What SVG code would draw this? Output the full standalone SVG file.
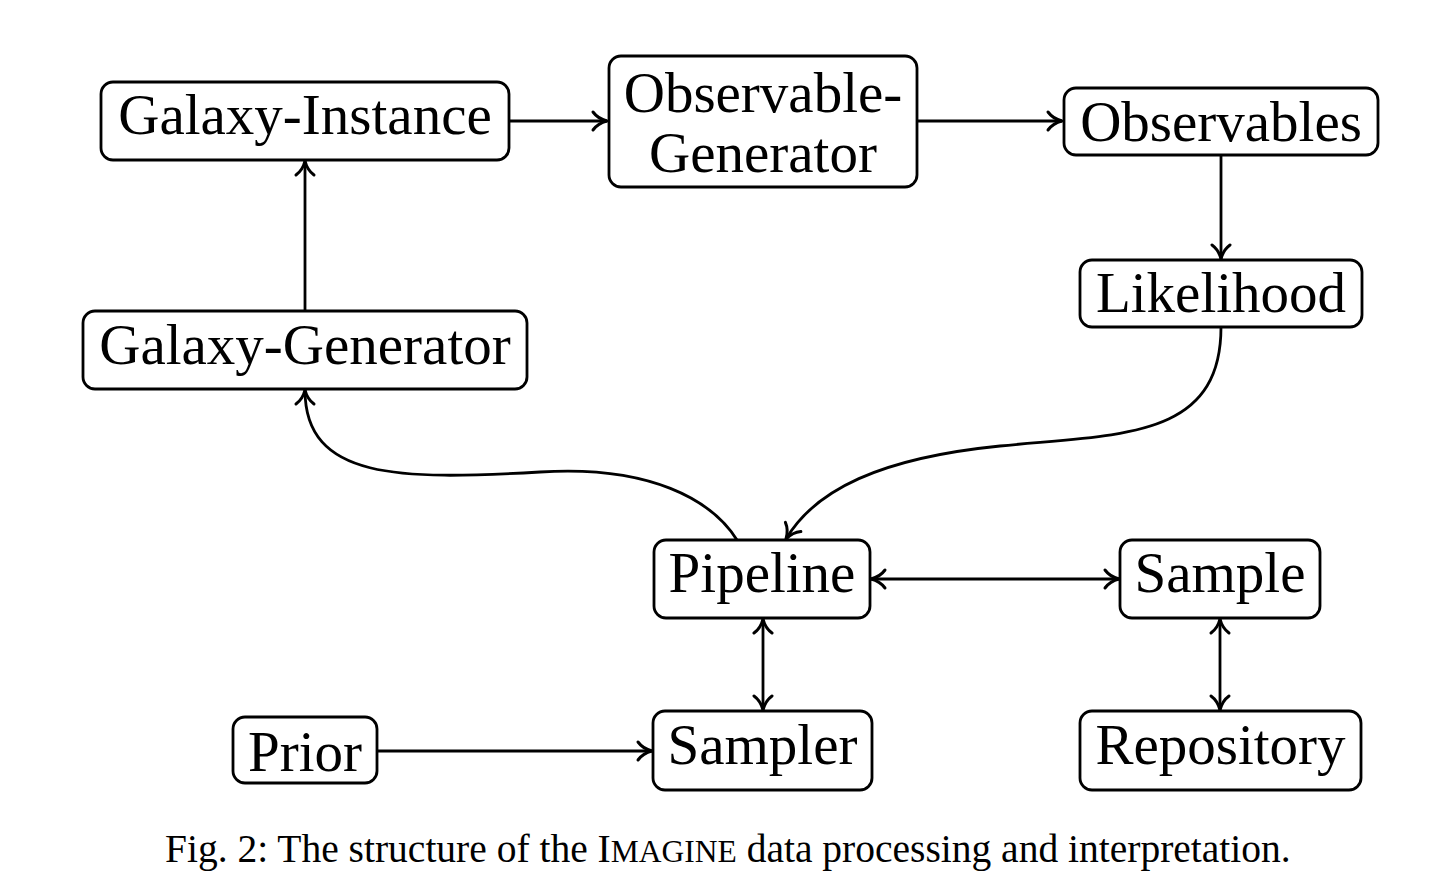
<svg xmlns="http://www.w3.org/2000/svg" width="1434" height="892" viewBox="0 0 1434 892">
<defs>
<style>
.box{fill:#fff;stroke:#000;stroke-width:2.8}
.lbl{font-family:"Liberation Serif","Times New Roman",serif;font-size:57px;fill:#000;text-anchor:middle}
.cap{font-family:"Liberation Serif","Times New Roman",serif;font-size:39.5px;fill:#000}
.edge{fill:none;stroke:#000;stroke-width:2.8;marker-end:url(#ah)}
.both{marker-start:url(#ah)}
</style>
<marker id="ah" viewBox="-18 -12 22 24" markerWidth="22" markerHeight="24" refX="0" refY="0" orient="auto-start-reverse" markerUnits="userSpaceOnUse">
<path d="M-14,-9 C-10,-3.5 -4,-1 0,0 C-4,1 -10,3.5 -14,9" fill="none" stroke="#000" stroke-width="3" stroke-linecap="round" stroke-linejoin="round"/>
</marker>
</defs>
<rect width="1434" height="892" fill="#fff"/>
<g id="connectors">
<path class="edge" d="M509,121 H607"/>
<path class="edge" d="M917,121 H1062"/>
<path class="edge" d="M1221,155 V259"/>
<path class="edge" d="M305,311 V161"/>
<path class="edge" d="M1221,327 C1221,440 1120,434 1000,446 C880,458 815,490 786,539"/>
<path class="edge" d="M737,540 C712,500 650,465 540,472 C400,480 305,480 305,390"/>
<path class="edge both" d="M871,579 H1119"/>
<path class="edge both" d="M763,619 V710"/>
<path class="edge both" d="M1220,619 V710"/>
<path class="edge" d="M377,751 H652"/>
</g>
<g id="galaxy-instance"><rect class="box" x="101" y="82" width="408" height="78" rx="12"/><text class="lbl" x="305" y="134">Galaxy-Instance</text></g>
<g id="observable-generator"><rect class="box" x="609" y="56" width="308" height="131" rx="12"/><text class="lbl" x="763" y="112">Observable-</text><text class="lbl" x="763" y="172">Generator</text></g>
<g id="observables"><rect class="box" x="1064" y="88" width="314" height="67" rx="12"/><text class="lbl" x="1221" y="141">Observables</text></g>
<g id="likelihood"><rect class="box" x="1080" y="260" width="282" height="67" rx="12"/><text class="lbl" x="1221" y="312">Likelihood</text></g>
<g id="galaxy-generator"><rect class="box" x="83" y="311" width="444" height="78" rx="12"/><text class="lbl" x="305" y="364">Galaxy-Generator</text></g>
<g id="pipeline"><rect class="box" x="654" y="540" width="216" height="78" rx="12"/><text class="lbl" x="762" y="592">Pipeline</text></g>
<g id="sample"><rect class="box" x="1120" y="540" width="200" height="78" rx="12"/><text class="lbl" x="1220" y="592">Sample</text></g>
<g id="sampler"><rect class="box" x="653" y="711" width="219" height="79" rx="12"/><text class="lbl" x="762.5" y="764">Sampler</text></g>
<g id="repository"><rect class="box" x="1080" y="711" width="281" height="79" rx="12"/><text class="lbl" x="1220.5" y="764">Repository</text></g>
<g id="prior"><rect class="box" x="233" y="717" width="144" height="66" rx="12"/><text class="lbl" x="305" y="771">Prior</text></g>
<text class="cap" x="165" y="862">Fig. 2: The structure of the I<tspan font-size="31.5">MAGINE</tspan> data processing and interpretation.</text>
</svg>
